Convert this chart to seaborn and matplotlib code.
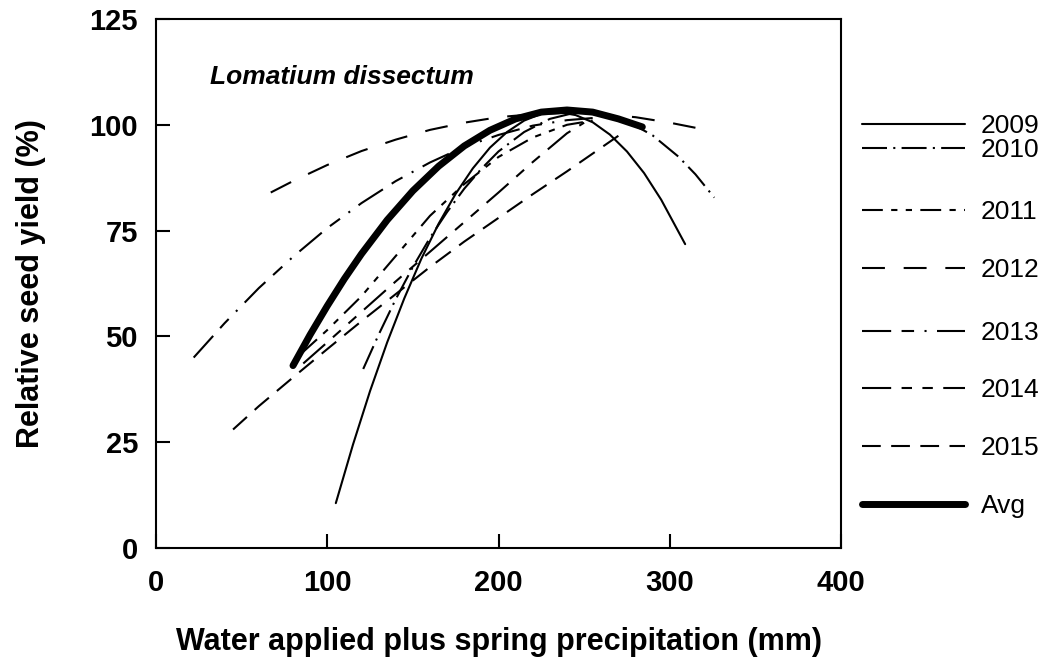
import matplotlib
matplotlib.use("Agg")
import matplotlib.pyplot as plt
import pandas as pd
import seaborn as sns

# ---- data (water in mm, relative seed yield in %) ----
x_2009 = [105, 115, 125, 135, 145, 155, 165, 175, 185, 195, 205, 215, 225, 235, 245, 255, 265, 275, 285, 295, 309]
y_2009 = [10.6, 24.4, 37.1, 48.6, 59.0, 68.4, 76.6, 83.7, 89.7, 94.6, 98.3, 101.0, 102.6, 103.0, 102.3, 100.6, 97.7, 93.7, 88.6, 82.3, 71.8]
x_2010 = [121, 130, 140, 150, 160, 170, 180, 190, 200, 215, 230, 245, 260, 275, 290, 305, 315, 326]
y_2010 = [42.3, 50.4, 58.8, 66.4, 73.3, 79.4, 84.9, 89.6, 93.7, 98.3, 101.4, 102.9, 102.7, 100.9, 97.5, 92.5, 88.3, 82.8]
x_2011 = [85, 100, 120, 140, 160, 180, 200, 220, 240, 255]
y_2011 = [46.0, 51.5, 59.5, 69.0, 78.5, 86.0, 92.4, 97.0, 100.0, 101.0]
x_2012 = [67, 80, 100, 120, 140, 160, 180, 200, 220, 240, 260, 280, 300, 315]
y_2012 = [84.0, 86.7, 90.5, 93.8, 96.5, 98.8, 100.5, 101.8, 102.5, 102.8, 102.5, 101.8, 100.5, 99.3]
x_2013 = [22, 40, 60, 80, 100, 120, 140, 160, 180, 200, 220, 240, 255]
y_2013 = [45.0, 53.1, 61.4, 68.8, 75.6, 81.5, 86.7, 91.1, 94.8, 97.6, 99.8, 101.1, 101.6]
x_2014 = [86, 100, 120, 140, 160, 180, 200, 220, 240, 250]
y_2014 = [43.6, 48.6, 55.8, 63.0, 70.0, 77.0, 84.0, 91.2, 98.0, 100.5]
x_2015 = [45, 60, 80, 100, 120, 140, 160, 180, 200, 220, 240, 255, 270]
y_2015 = [28.0, 33.5, 40.3, 47.0, 53.6, 60.0, 66.4, 72.4, 78.0, 83.6, 89.0, 93.2, 97.4]
x_avg = [80, 90, 100, 110, 120, 135, 150, 165, 180, 195, 210, 225, 240, 255, 270, 284]
y_avg = [43.1, 50.4, 57.2, 63.6, 69.5, 77.5, 84.4, 90.2, 95.0, 98.7, 101.4, 103.0, 103.5, 103.0, 101.4, 99.5]

series_labels = ["2009", "2010", "2011", "2012", "2013", "2014", "2015", "Avg"]
x_ticks = [0, 100, 200, 300, 400]
y_ticks = [0, 25, 50, 75, 100, 125]
x_title = "Water applied plus spring precipitation (mm)"
y_title = "Relative seed yield (%)"
species = "Lomatium dissectum"

# ---- styling ----
sns.set_theme(style="white")
plt.rcParams["font.family"] = ["Liberation Sans", "DejaVu Sans"]
plt.rcParams["text.color"] = "black"
plt.rcParams["axes.labelcolor"] = "black"
plt.rcParams["xtick.color"] = "black"
plt.rcParams["ytick.color"] = "black"

styles = {
    "2009": dict(linestyle="-", lw=1.5),
    "2010": dict(linestyle=(0, (12, 3, 1, 3)), lw=1.5),
    "2011": dict(linestyle=(0, (10, 4, 3, 4, 3, 4)), lw=1.5),
    "2012": dict(linestyle=(0, (11, 9)), lw=1.5),
    "2013": dict(linestyle=(0, (14, 5, 6, 5, 1, 5)), lw=1.5),
    "2014": dict(linestyle=(0, (14, 5, 5, 5, 5, 5)), lw=1.5),
    "2015": dict(linestyle=(0, (9, 5)), lw=1.5),
    "Avg": dict(linestyle="-", lw=5.0),
}

series = {
    "2009": (x_2009, y_2009), "2010": (x_2010, y_2010), "2011": (x_2011, y_2011),
    "2012": (x_2012, y_2012), "2013": (x_2013, y_2013), "2014": (x_2014, y_2014),
    "2015": (x_2015, y_2015), "Avg": (x_avg, y_avg),
}

fig = plt.figure(figsize=(10.49, 6.59), dpi=100)
ax = fig.add_axes([156 / 1049, 1 - 548 / 659, 685 / 1049, 529 / 659])

handles = {}
for lab in series_labels:
    xs, ys = series[lab]
    df = pd.DataFrame({"x": xs, "y": ys})
    n_before = len(ax.get_lines())
    sns.lineplot(data=df, x="x", y="y", ax=ax, color="black", sort=False,
                 estimator=None, legend=False, solid_capstyle="round",
                 dash_capstyle="butt", **styles[lab])
    handles[lab] = ax.get_lines()[n_before]

ax.set_xlim(0, 400)
ax.set_ylim(0, 125)
ax.set_xticks(x_ticks)
ax.set_yticks(y_ticks)
ax.set_xticklabels([str(v) for v in x_ticks], fontsize=21, fontweight="bold")
ax.set_yticklabels([str(v) for v in y_ticks], fontsize=21, fontweight="bold")
ax.tick_params(axis="both", direction="in", length=10, width=1.5, color="black",
               labelcolor="black", bottom=True, left=True, top=False, right=False)
ax.tick_params(axis="x", pad=15)
ax.tick_params(axis="y", pad=13)
for sp in ax.spines.values():
    sp.set_visible(True)
    sp.set_color("black")
    sp.set_linewidth(1.5)

ax.set_xlabel(x_title, fontsize=22, fontweight="bold", labelpad=22, color="black")
ax.set_ylabel(y_title, fontsize=22, fontweight="bold", labelpad=31, color="black")

ax.text(0.079, 0.89, species, transform=ax.transAxes, fontsize=19,
        fontweight="bold", fontstyle="italic", ha="left", va="center", color="black")

# legend entries placed outside on the right (row positions follow the reference)
legend_rows = {"2009": 126, "2010": 150, "2011": 212, "2012": 270, "2013": 333,
               "2014": 390, "2015": 448, "Avg": 506}
for lab in series_labels:
    leg = fig.legend(handles=[handles[lab]], labels=[lab], loc="center left",
                     bbox_to_anchor=(862 / 1049, 1 - legend_rows[lab] / 659),
                     frameon=False, borderpad=0, borderaxespad=0,
                     handlelength=3.9, handletextpad=0.6, fontsize=19)
    for t in leg.get_texts():
        t.set_color("black")

fig.savefig("out.png", dpi=100, facecolor="white")
